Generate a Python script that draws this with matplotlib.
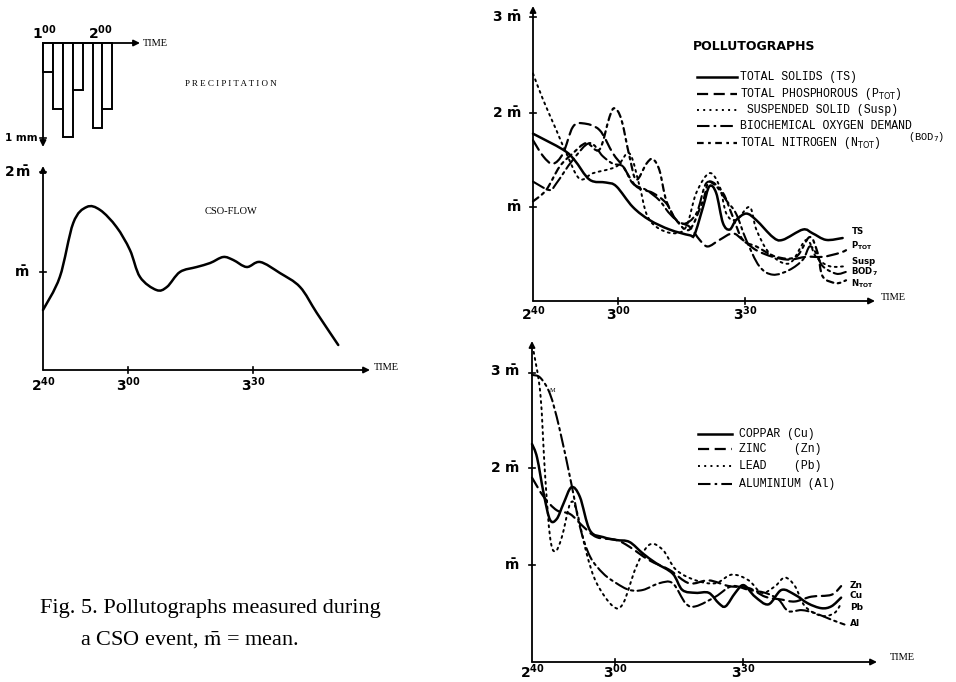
import matplotlib
matplotlib.use("Agg")
import matplotlib.pyplot as plt
from matplotlib.path import Path
from matplotlib.patches import PathPatch

W, H = 956, 682

# precipitation, 10 min blocks starting 1:00 (mm)
precip_start = [0, 10, 20, 30, 40, 50, 60]
precip_mm = [0.30, 0.69, 0.99, 0.49, 0.0, 0.89, 0.69]

# CSO flow, minutes after 2:40, in units of mean
cso_t = [0, 4, 7.2, 10.4, 13.6, 17.5, 20.7, 23.1, 27, 29.5, 32.6, 36.6, 39.8, 42.9,
         45.3, 48.5, 51.7, 56.4, 61.2, 65.2, 70.3]
cso_v = [0.60, 0.93, 1.47, 1.63, 1.60, 1.43, 1.20, 0.93, 0.80, 0.83, 0.98, 1.03, 1.07, 1.13,
         1.10, 1.03, 1.08, 0.97, 0.83, 0.57, 0.25]

# pollutographs
ts_t = [0, 7.1, 9.8, 13.4, 17.3, 19.7, 23.6, 27.6, 32.3, 37, 38.2, 40.2, 41.7, 43.3, 44.9,
        46.5, 48, 50.4, 52.8, 56.7, 59, 63.8, 66.1, 69.3, 73.2]
ts_v = [1.78, 1.61, 1.50, 1.29, 1.26, 1.22, 1.00, 0.86, 0.76, 0.70, 0.71, 1.00, 1.22, 1.15, 0.83,
        0.76, 0.86, 0.93, 0.86, 0.68, 0.65, 0.76, 0.72, 0.65, 0.67]
ptot_t = [0, 2.4, 4.7, 7.1, 9.4, 11.8, 15.7, 18.9, 21.3, 24.4, 28.3, 31.5, 33.9, 37, 39.4, 41.3,
          44.1, 47.2, 49.6, 52.8, 56.7, 60.6, 64.6, 68.5, 72.4, 74]
ptot_v = [1.71, 1.54, 1.46, 1.57, 1.85, 1.89, 1.82, 1.57, 1.43, 1.22, 1.15, 1.04, 0.86, 0.79, 0.65,
          0.58, 0.65, 0.72, 0.65, 0.54, 0.47, 0.44, 0.47, 0.47, 0.51, 0.54]
susp_t = [0, 2.4, 5.5, 7.9, 11, 14.2, 19.7, 22.8, 25.2, 26.8, 29.1, 33.1, 36.2, 38.6, 41.7, 44.1,
          45.7, 48, 51.2, 52.8, 55.9, 60.6, 64.6, 66.9, 70.1, 74]
susp_v = [2.42, 2.14, 1.82, 1.57, 1.30, 1.36, 1.43, 1.57, 1.22, 0.93, 0.79, 0.72, 0.79, 1.15, 1.36,
          1.22, 0.93, 0.86, 1.00, 0.76, 0.51, 0.40, 0.65, 0.47, 0.37, 0.37]
bod_t = [0, 3.9, 5.5, 9.4, 13.4, 16.5, 18.9, 21.3, 23.6, 26.8, 29.9, 32.3, 35.4, 38.6, 40.9, 43.3,
         45.7, 48, 50.4, 53.5, 56.7, 60.6, 63.8, 65.4, 66.9, 68.5, 71.7, 74]
bod_v = [1.27, 1.18, 1.25, 1.50, 1.68, 1.54, 1.46, 1.43, 1.25, 1.18, 1.07, 0.93, 0.82, 0.93, 1.25,
         1.22, 1.07, 0.93, 0.65, 0.37, 0.28, 0.33, 0.44, 0.58, 0.51, 0.37, 0.29, 0.31]
ntot_t = [0, 3.1, 6.3, 9.4, 12.6, 15.7, 18.1, 19.3, 20.9, 22.8, 24.4, 26.8, 28.3, 29.9, 31.5,
          33.9, 37, 40.2, 41.7, 44.9, 47.2, 49.6, 52.8, 57.5, 62.2, 65.4, 67.3, 68.5, 71.7, 74]
ntot_v = [1.06, 1.18, 1.43, 1.57, 1.68, 1.61, 1.96, 2.05, 1.93, 1.54, 1.29, 1.46, 1.51, 1.39, 1.07,
          0.86, 0.76, 1.07, 1.27, 1.15, 0.90, 0.65, 0.58, 0.47, 0.47, 0.68, 0.51, 0.26, 0.19, 0.22]

# metals
cu_t = [0, 1.2, 2.8, 4.3, 5.9, 7.5, 9.4, 11.4, 13.8, 17, 20.1, 23.2, 26.4, 29.5, 33.5, 35.8, 39,
        42.1, 44.5, 46.1, 48.4, 50.4, 53.1, 56.3, 59.4, 62.6, 65.7, 68.9, 71.3, 73.6]
cu_v = [2.26, 2.12, 1.74, 1.47, 1.48, 1.64, 1.81, 1.71, 1.36, 1.29, 1.26, 1.24, 1.12, 1.02, 0.91,
        0.74, 0.71, 0.71, 0.60, 0.57, 0.71, 0.79, 0.67, 0.59, 0.74, 0.69, 0.60, 0.55, 0.57, 0.66]
zn_t = [0, 2.8, 5.9, 9.1, 12.2, 15.4, 20.1, 23.2, 27.9, 32.7, 37.4, 42.1, 46.9, 51.6, 55.5, 59.4,
        62.6, 66.5, 71.3, 73.6]
zn_v = [1.91, 1.71, 1.57, 1.53, 1.40, 1.29, 1.26, 1.19, 1.05, 0.95, 0.81, 0.84, 0.78, 0.76, 0.67,
        0.64, 0.62, 0.67, 0.69, 0.78]
pb_t = [0.4, 2, 3.1, 4.3, 5.5, 7.1, 9.1, 10.6, 13, 15.4, 19.3, 21.7, 24.8, 27.9, 31.1, 34.3, 39,
        43.7, 47.6, 51.6, 54.7, 57.9, 60.2, 62.6, 65, 68.9, 72, 73.6]
pb_v = [3.22, 2.78, 1.95, 1.29, 1.14, 1.29, 1.64, 1.57, 1.12, 0.81, 0.57, 0.60, 0.98, 1.21, 1.16,
        0.95, 0.84, 0.81, 0.90, 0.84, 0.71, 0.78, 0.87, 0.78, 0.57, 0.47, 0.50, 0.60]
al_t = [0, 2, 4.3, 6.5, 9.4, 11.4, 13.8, 17, 20.1, 23.2, 26.4, 30.3, 33.5, 36.6, 39, 43.7, 47.6,
        51.6, 55.5, 58.7, 61, 64.2, 67.3, 71.3, 74.4]
al_v = [2.98, 2.95, 2.78, 2.43, 1.84, 1.40, 1.09, 0.91, 0.81, 0.74, 0.74, 0.81, 0.81, 0.60, 0.57,
        0.67, 0.78, 0.74, 0.71, 0.64, 0.52, 0.53, 0.50, 0.43, 0.38]

fig = plt.figure(figsize=(W / 100, H / 100), dpi=100)
fig.patch.set_facecolor("white")

# overlay in pixel coordinates for axes arrows and text
ov = fig.add_axes([0, 0, 1, 1])
ov.set_xlim(0, W)
ov.set_ylim(H, 0)
ov.axis("off")


def data_axes(x0, y0, sx, sy, xlim, ylim):
    pl = x0 + xlim[0] * sx
    pr = x0 + xlim[1] * sx
    pa = y0 - ylim[0] * sy
    pb = y0 - ylim[1] * sy
    ax = fig.add_axes([pl / W, 1 - max(pa, pb) / H, (pr - pl) / W, abs(pa - pb) / H])
    ax.set_xlim(xlim)
    ax.set_ylim(ylim if pa > pb else ylim[::-1])
    ax.axis("off")
    ax.patch.set_alpha(0)
    return ax


def smooth_line(ax, t, v, **kw):
    # hand-drawn look: bezier curve through the read points (catmull-rom handles)
    pts = list(zip(t, v))
    n = len(pts)
    verts = [pts[0]]
    codes = [Path.MOVETO]
    for i in range(n - 1):
        p0 = pts[max(i - 1, 0)]
        p1 = pts[i]
        p2 = pts[i + 1]
        p3 = pts[min(i + 2, n - 1)]
        c1 = (p1[0] + (p2[0] - p0[0]) / 6, p1[1] + (p2[1] - p0[1]) / 6)
        c2 = (p2[0] - (p3[0] - p1[0]) / 6, p2[1] - (p3[1] - p1[1]) / 6)
        verts += [c1, c2, p2]
        codes += [Path.CURVE4] * 3
    ax.add_patch(PathPatch(Path(verts, codes), fill=False, edgecolor="k", clip_on=False,
                           capstyle="round", **kw))


def arrow(x1, y1, x2, y2):
    ov.annotate("", xy=(x2, y2), xytext=(x1, y1),
                arrowprops=dict(arrowstyle="-|>", lw=1.3, color="k", mutation_scale=9,
                                shrinkA=0, shrinkB=0))


def tick_y(x, y):
    ov.plot([x - 3, x + 3], [y, y], color="k", lw=1.2)


def tick_x(x, y):
    ov.plot([x, x], [y - 3, y + 3], color="k", lw=1.2)


lab = dict(fontsize=10, fontweight="bold", math_fontfamily="dejavusans")
typ = dict(family="Liberation Mono", fontsize=8.3)
serif_small = dict(family="Liberation Serif", fontsize=7.5)

# ---- precipitation ----
arrow(43, 43, 140, 43)
arrow(43, 43, 43, 147)
tick_y(43, 138)
ov.text(44, 33, r"$\mathbf{1^{00}}$", ha="center", va="center", **lab)
ov.text(100, 33, r"$\mathbf{2^{00}}$", ha="center", va="center", **lab)
ov.text(143, 43, "TIME", ha="left", va="center", **serif_small)
ov.text(185, 84, "P R E C I P I T A T I O N", ha="left", va="center", family="Liberation Serif",
        fontsize=6.5)
ov.text(38, 138, "1 mm", ha="right", va="center", fontsize=7.5, fontweight="bold")
axp = data_axes(43, 43, 0.99, -95, (0, 80), (0, 1.1))
axp.bar(precip_start, precip_mm, width=10, align="edge", color="white", edgecolor="k",
        linewidth=1.4, clip_on=False)

# ---- CSO flow ----
arrow(43, 370, 370, 370)
arrow(43, 370, 43, 166)
tick_y(43, 272)
tick_y(43, 172)
for xp in (128, 253):
    tick_x(xp, 370)
ov.text(31, 172, r"$\mathbf{2\,\bar{m}}$", ha="right", va="center", **lab)
ov.text(29, 272, r"$\mathbf{\bar{m}}$", ha="right", va="center", **lab)
for xp, s in [(43, r"$\mathbf{2^{40}}$"), (128, r"$\mathbf{3^{00}}$"), (253, r"$\mathbf{3^{30}}$")]:
    ov.text(xp, 385, s, ha="center", va="center", **lab)
ov.text(374, 367, "TIME", ha="left", va="center", **serif_small)
ov.text(205, 212, "CSO-FLOW", ha="left", va="center", family="Liberation Serif", fontsize=7.5)
axc = data_axes(43, 370, 4.2, 100, (0, 77), (0, 2))
smooth_line(axc, cso_t, cso_v, lw=1.8)

# ---- pollutographs ----
arrow(533, 301, 875, 301)
arrow(533, 301, 533, 6)
for yp in (17, 113, 207):
    tick_y(533, yp)
for xp in (618, 745):
    tick_x(xp, 301)
ov.text(521, 17, r"$\mathbf{3\ \bar{m}}$", ha="right", va="center", **lab)
ov.text(521, 113, r"$\mathbf{2\ \bar{m}}$", ha="right", va="center", **lab)
ov.text(521, 207, r"$\mathbf{\bar{m}}$", ha="right", va="center", **lab)
for xp, s in [(533, r"$\mathbf{2^{40}}$"), (618, r"$\mathbf{3^{00}}$"), (745, r"$\mathbf{3^{30}}$")]:
    ov.text(xp, 314, s, ha="center", va="center", **lab)
ov.text(881, 297, "TIME", ha="left", va="center", **serif_small)
ov.text(693, 46, "POLLUTOGRAPHS", ha="left", va="center", fontsize=9, fontweight="bold")

styles_top = [
    ("TOTAL SOLIDS (TS)", "-", 1.8, ts_t, ts_v),
    (r"TOTAL PHOSPHOROUS (P$_{\rm TOT}$)", (0, (5, 2.5)), 1.6, ptot_t, ptot_v),
    (r" SUSPENDED SOLID (Susp)", (0, (1, 2.2)), 1.4, susp_t, susp_v),
    ("BIOCHEMICAL OXYGEN DEMAND", (0, (6, 2, 1.2, 2)), 1.5, bod_t, bod_v),
    (r"TOTAL NITROGEN (N$_{\rm TOT}$)", (0, (3, 2, 1.2, 2)), 1.6, ntot_t, ntot_v),
]
axt = data_axes(533, 301, 4.23, 94, (0, 80), (0, 3.1))
leg_y = [77, 94, 110, 126, 143]
for (name, ls, lw, t, v), ly in zip(styles_top, leg_y):
    smooth_line(axt, t, v, linestyle=ls, lw=lw)
    ov.plot([697, 737], [ly, ly], color="k", ls=ls, lw=lw)
    ov.text(740, ly, name, ha="left", va="center", **typ)
ov.text(908, 137, r"(BOD$_7$)", ha="left", va="center", family="Liberation Mono", fontsize=7.5)
ends_top = [(230, r"$\mathbf{TS}$"), (246, r"$\mathbf{P_{TOT}}$"), (261, r"$\mathbf{Susp}$"),
            (272, r"$\mathbf{BOD_7}$"), (284, r"$\mathbf{N_{TOT}}$")]
for yp, s in ends_top:
    ov.text(851, yp, s, ha="left", va="center", fontsize=6.2, math_fontfamily="dejavusans")

# ---- metals ----
arrow(532, 662, 877, 662)
arrow(532, 662, 532, 341)
for yp in (373, 468, 565):
    tick_y(532, yp)
for xp in (615, 743):
    tick_x(xp, 662)
ov.text(519, 371, r"$\mathbf{3\ \bar{m}}$", ha="right", va="center", **lab)
ov.text(519, 468, r"$\mathbf{2\ \bar{m}}$", ha="right", va="center", **lab)
ov.text(519, 565, r"$\mathbf{\bar{m}}$", ha="right", va="center", **lab)
for xp, s in [(532, r"$\mathbf{2^{40}}$"), (615, r"$\mathbf{3^{00}}$"), (743, r"$\mathbf{3^{30}}$")]:
    ov.text(xp, 672, s, ha="center", va="center", **lab)
ov.text(890, 658, "TIME", ha="left", va="center", **serif_small)
ov.text(550, 390, "M", ha="left", va="center", family="Liberation Serif", fontsize=4.5)

styles_bot = [
    ("COPPAR (Cu)", "-", 1.8, cu_t, cu_v),
    ("ZINC    (Zn)", (0, (5, 2.5)), 1.6, zn_t, zn_v),
    ("LEAD    (Pb)", (0, (1, 2.2)), 1.4, pb_t, pb_v),
    ("ALUMINIUM (Al)", (0, (6, 2, 1.2, 2)), 1.5, al_t, al_v),
]
axb = data_axes(532, 661, 4.2, 96, (0, 80), (0, 3.3))
leg_y2 = [434, 449, 466, 484]
for (name, ls, lw, t, v), ly in zip(styles_bot, leg_y2):
    smooth_line(axb, t, v, linestyle=ls, lw=lw)
    ov.plot([698, 732], [ly, ly], color="k", ls=ls, lw=lw)
    ov.text(739, ly, name, ha="left", va="center", **typ)
for yp, s in [(585, "Zn"), (596, "Cu"), (607, "Pb"), (624, "Al")]:
    ov.text(850, yp, s, ha="left", va="center", fontsize=6.5, fontweight="bold")

# ---- caption ----
cap = dict(family="Liberation Serif", fontsize=16, math_fontfamily="stix")
ov.text(40, 608, "Fig. 5. Pollutographs measured during", ha="left", va="center", **cap)
ov.text(80, 640, r"a CSO event, $\bar{\mathrm{m}}$ = mean.", ha="left", va="center", **cap)

fig.savefig("out.png", dpi=100)
